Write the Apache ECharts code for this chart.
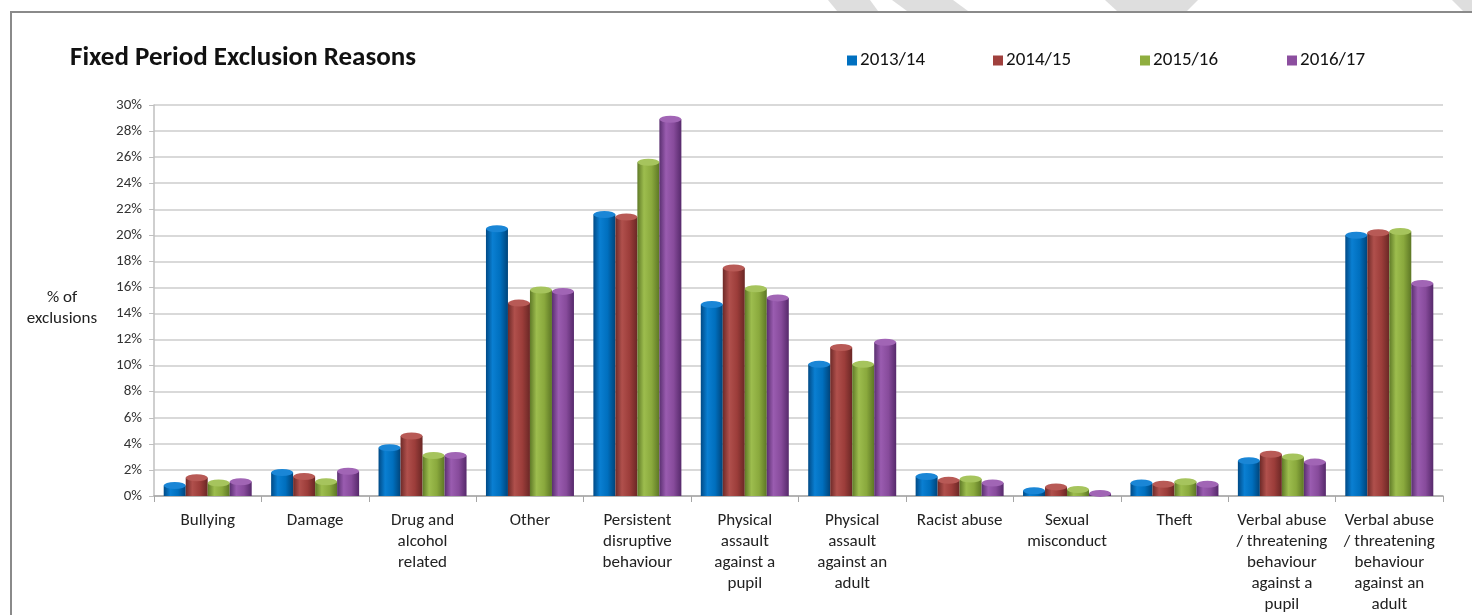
<!DOCTYPE html>
<html>
<head>
<meta charset="utf-8">
<script src="https://cdn.jsdelivr.net/npm/echarts@6/dist/echarts.min.js"></script>
<style>
html,body{margin:0;padding:0;background:#fff;}
#chart{width:1472px;height:615px;}
</style>
</head>
<body>
<div id="chart"></div>
<script>
var categories = [
  "Bullying",
  "Damage",
  "Drug and\nalcohol\nrelated",
  "Other",
  "Persistent\ndisruptive\nbehaviour",
  "Physical\nassault\nagainst a\npupil",
  "Physical\nassault\nagainst an\nadult",
  "Racist abuse",
  "Sexual\nmisconduct",
  "Theft",
  "Verbal abuse\n/ threatening\nbehaviour\nagainst a\npupil",
  "Verbal abuse\n/ threatening\nbehaviour\nagainst an\nadult"
];
var seriesNames = ["2013/14", "2014/15", "2015/16", "2016/17"];
var v2013 = [0.8, 1.8, 3.7, 20.5, 21.6, 14.7, 10.1, 1.5, 0.4, 1.0, 2.7, 20.0];
var v2014 = [1.4, 1.5, 4.6, 14.8, 21.4, 17.5, 11.4, 1.2, 0.7, 0.9, 3.2, 20.2];
var v2015 = [1.0, 1.1, 3.1, 15.8, 25.6, 15.9, 10.1, 1.3, 0.5, 1.1, 3.0, 20.3];
var v2016 = [1.1, 1.9, 3.1, 15.7, 28.9, 15.2, 11.8, 1.0, 0.2, 0.9, 2.6, 16.3];
var yMin = 0, yMax = 30, yStep = 2;

var values = [v2013, v2014, v2015, v2016];
var solid = ["#0070C0", "#A0403D", "#8FAE3F", "#8C4E9F"];
var grads = [
  ["#004a86", "#0a7fd2", "#006fbe", "#00447a"],
  ["#6e2a28", "#b0504c", "#9c3d3a", "#6a2725"],
  ["#5f7a27", "#9dbd4e", "#8aa93d", "#5d7725"],
  ["#5a2f70", "#9a5cb0", "#874b9b", "#56296b"]
];
var caps = ["#1a86d6", "#b85a56", "#a6c45d", "#a165b5"];
var legendLeft = [842, 988, 1135, 1282];

var BW = 22;
var series = [];
values.forEach(function (vals, i) {
  series.push({
    name: seriesNames[i],
    type: "bar",
    data: vals,
    barWidth: BW,
    barGap: "0%",
    itemStyle: {
      color: {
        type: "linear", x: 0, y: 0, x2: 1, y2: 0,
        colorStops: [
          {offset: 0, color: grads[i][0]},
          {offset: 0.3, color: grads[i][1]},
          {offset: 0.65, color: grads[i][2]},
          {offset: 1, color: grads[i][3]}
        ]
      }
    },
    z: 2
  });
});
values.forEach(function (vals, i) {
  series.push({
    name: seriesNames[i] + " cap",
    type: "pictorialBar",
    data: vals,
    symbol: "circle",
    symbolSize: [BW, 7],
    symbolPosition: "end",
    symbolOffset: [0, "-50%"],
    barWidth: BW,
    barGap: "0%",
    itemStyle: {color: caps[i]},
    z: 3,
    silent: true
  });
});

var chart = echarts.init(document.getElementById("chart"));
var FONT = "Carlito, Lato, 'Open Sans', sans-serif";
chart.setOption({
  animation: false,
  backgroundColor: "#ffffff",
  textStyle: {fontFamily: FONT},
  title: {
    text: "Fixed Period Exclusion Reasons",
    left: 65, top: 40,
    textStyle: {fontFamily: FONT, fontWeight: "bold", fontSize: 27, color: "#111"}
  },
  legend: seriesNames.map(function (n, i) {
    return {
      data: [{name: n, itemStyle: {color: solid[i]}}],
      left: legendLeft[i], top: 46,
      itemWidth: 10, itemHeight: 10,
      icon: "rect",
      textStyle: {fontFamily: FONT, fontSize: 19, color: "#111", padding: [0, 0, 0, -2]}
    };
  }),
  graphic: [
    {type: "polyline", shape: {points: [[11, 615], [11, 12], [1472, 12]]}, style: {stroke: "#8a8a8a", lineWidth: 2, fill: null}, silent: true},
    {type: "polygon", shape: {points: [[828, 0], [870, 0], [878, 11], [837, 11]]}, style: {fill: "#dedede"}, silent: true, z: -1},
    {type: "polygon", shape: {points: [[892, 0], [953, 0], [968, 11], [907, 11]]}, style: {fill: "#dedede"}, silent: true, z: -1},
    {type: "polygon", shape: {points: [[1105, 0], [1198, 0], [1187, 11], [1117, 11]]}, style: {fill: "#dedede"}, silent: true, z: -1},
    {type: "polygon", shape: {points: [[1452, 0], [1472, 0], [1472, 11], [1463, 11]]}, style: {fill: "#dedede"}, silent: true, z: -1},
    {type: "text", x: 62, y: 308, style: {text: "% of\nexclusions", font: "17px " + FONT, fill: "#222", align: "center", verticalAlign: "middle", lineHeight: 21}, silent: true}
  ],
  grid: {left: 154, right: 29, top: 105, bottom: 117, containLabel: false},
  xAxis: {
    type: "category",
    data: categories,
    axisLine: {lineStyle: {color: "#a6a6a6", width: 1.5}},
    axisTick: {show: true, length: 6, lineStyle: {color: "#a6a6a6"}},
    axisLabel: {interval: 0, margin: 14, fontSize: 17, lineHeight: 21, color: "#222", fontFamily: FONT}
  },
  yAxis: {
    type: "value",
    min: yMin, max: yMax, interval: yStep,
    axisLine: {show: true, lineStyle: {color: "#bfbfbf", width: 1.5}},
    axisTick: {show: true, length: 5, lineStyle: {color: "#bfbfbf"}},
    axisLabel: {formatter: "{value}%", fontSize: 15, color: "#333", margin: 12, fontFamily: FONT},
    splitLine: {lineStyle: {color: "#cccccc", width: 1.5}}
  },
  series: series
});
</script>
</body>
</html>
